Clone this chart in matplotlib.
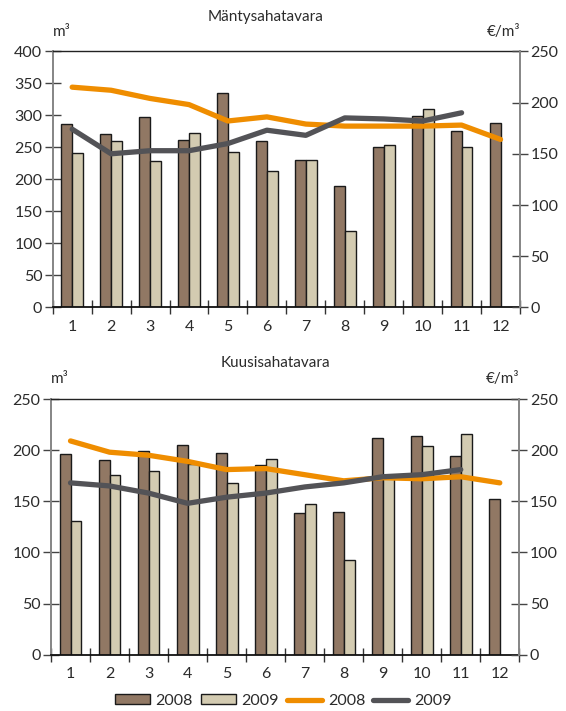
import matplotlib.pyplot as plt
from matplotlib.patches import Patch
from matplotlib.lines import Line2D
import numpy as np

plt.rcParams['font.family'] = ['Lato', 'DejaVu Sans']

months = [1, 2, 3, 4, 5, 6, 7, 8, 9, 10, 11, 12]
month_labels = ['1', '2', '3', '4', '5', '6', '7', '8', '9', '10', '11', '12']

# Mäntysahatavara: volumes (m3) and prices (EUR/m3)
mant_vol_2008 = [286, 271, 297, 262, 335, 260, 230, 189, 251, 299, 275, 288]
mant_vol_2009 = [241, 260, 228, 273, 243, 213, 230, 120, 254, 310, 251]
mant_price_2008 = [215, 212, 204, 198, 182, 186, 179, 177, 177, 177, 178, 164]
mant_price_2009 = [174, 150, 153, 153, 160, 173, 168, 185, 184, 182, 190]

# Kuusisahatavara
kuusi_vol_2008 = [196, 190, 199, 205, 197, 185, 139, 140, 212, 214, 194, 152]
kuusi_vol_2009 = [131, 176, 180, 186, 168, 191, 147, 93, 175, 204, 216]
kuusi_price_2008 = [209, 198, 195, 189, 181, 182, 176, 170, 173, 172, 174, 168]
kuusi_price_2009 = [168, 165, 158, 148, 154, 158, 164, 168, 174, 176, 181]

c08 = '#917864'
c09 = '#d3cbb1'
c_or = '#ef8d00'
c_gr = '#535357'
grey_spine = '#858585'
txt = '#2b2b2b'


def make_panel(rect, title, title_x, title_y, vol08, vol09, p08, p09,
               ymax_left, lab_y):
    ax = fig.add_axes(rect)
    w = 0.28
    x = np.array(months, dtype=float)
    ax.bar(x[:len(vol08)] - w / 2, vol08, width=w, color=c08,
           edgecolor='#1a1a1a', linewidth=1.0, zorder=2)
    ax.bar(x[:len(vol09)] + w / 2, vol09, width=w, color=c09,
           edgecolor='#1a1a1a', linewidth=1.0, zorder=2)
    ax.set_xlim(0.5, 12.5)
    ax.set_ylim(0, ymax_left)
    ax.set_yticks(np.arange(0, ymax_left + 1, 50))
    ax.set_xticks(months)
    ax.set_xticklabels(month_labels)
    ax.set_xticks(np.arange(0.5, 13, 1.0), minor=True)
    ax.tick_params(axis='x', which='major', length=0, pad=9,
                   labelsize=11.5, labelcolor=txt)
    ax.tick_params(axis='x', which='minor', direction='inout', length=10,
                   width=1.0, color='#333333')
    ax.tick_params(axis='y', direction='inout', length=11, width=1.0,
                   color='#444444', labelsize=11.5, labelcolor=txt, pad=2)
    ax.spines['left'].set_color(grey_spine)
    ax.spines['left'].set_linewidth(1.4)
    ax.spines['right'].set_visible(False)
    ax.spines['top'].set_color('#222222')
    ax.spines['top'].set_linewidth(1.0)
    ax.spines['bottom'].set_color('#111111')
    ax.spines['bottom'].set_linewidth(1.3)

    ax2 = ax.twinx()
    ax2.plot(months[:len(p08)], p08, color=c_or, lw=3.8,
             solid_capstyle='round', zorder=3)
    ax2.plot(months[:len(p09)], p09, color=c_gr, lw=3.8,
             solid_capstyle='round', zorder=3)
    ax2.set_ylim(0, 250)
    ax2.set_yticks(np.arange(0, 251, 50))
    ax2.tick_params(axis='y', direction='inout', length=11, width=1.0,
                    color='#444444', labelsize=11.5, labelcolor=txt, pad=2)
    for s in ['left', 'top', 'bottom']:
        ax2.spines[s].set_visible(False)
    ax2.spines['right'].set_color(grey_spine)
    ax2.spines['right'].set_linewidth(1.4)

    fig.text(title_x, title_y, title, ha='center', va='center',
             fontsize=11, color=txt)
    left, bottom, width, height = rect
    fig.text(left, lab_y, 'm³', ha='left', va='center',
             fontsize=11, color=txt)
    fig.text(left + width, lab_y, '€/m³', ha='right', va='center',
             fontsize=11, color=txt)
    return ax


fig = plt.figure(figsize=(5.66, 7.11), dpi=100)

make_panel([52.7 / 566, 1 - 307.5 / 711, 467.3 / 566, 256.2 / 711],
           'Mäntysahatavara', 265.5 / 566, 1 - 16.5 / 711,
           mant_vol_2008, mant_vol_2009, mant_price_2008, mant_price_2009,
           400, 1 - 32 / 711)
make_panel([51 / 566, 1 - 654.7 / 711, 468.3 / 566, 255.7 / 711],
           'Kuusisahatavara', 275 / 566, 1 - 363 / 711,
           kuusi_vol_2008, kuusi_vol_2009, kuusi_price_2008, kuusi_price_2009,
           250, 1 - 379 / 711)

handles = [
    Patch(facecolor=c08, edgecolor='#1a1a1a', linewidth=1.0),
    Patch(facecolor=c09, edgecolor='#1a1a1a', linewidth=1.0),
    Line2D([], [], color=c_or, lw=3.8, solid_capstyle='round'),
    Line2D([], [], color=c_gr, lw=3.8, solid_capstyle='round'),
]
fig.legend(handles, ['2008', '2009', '2008', '2009'], loc='center',
           bbox_to_anchor=(283 / 566, 1 - 701 / 711), ncol=4, frameon=False,
           fontsize=11.5, handlelength=2.2, handleheight=0.6,
           handletextpad=0.35, columnspacing=0.5, labelcolor=txt)

fig.savefig('out.png', dpi=100)
